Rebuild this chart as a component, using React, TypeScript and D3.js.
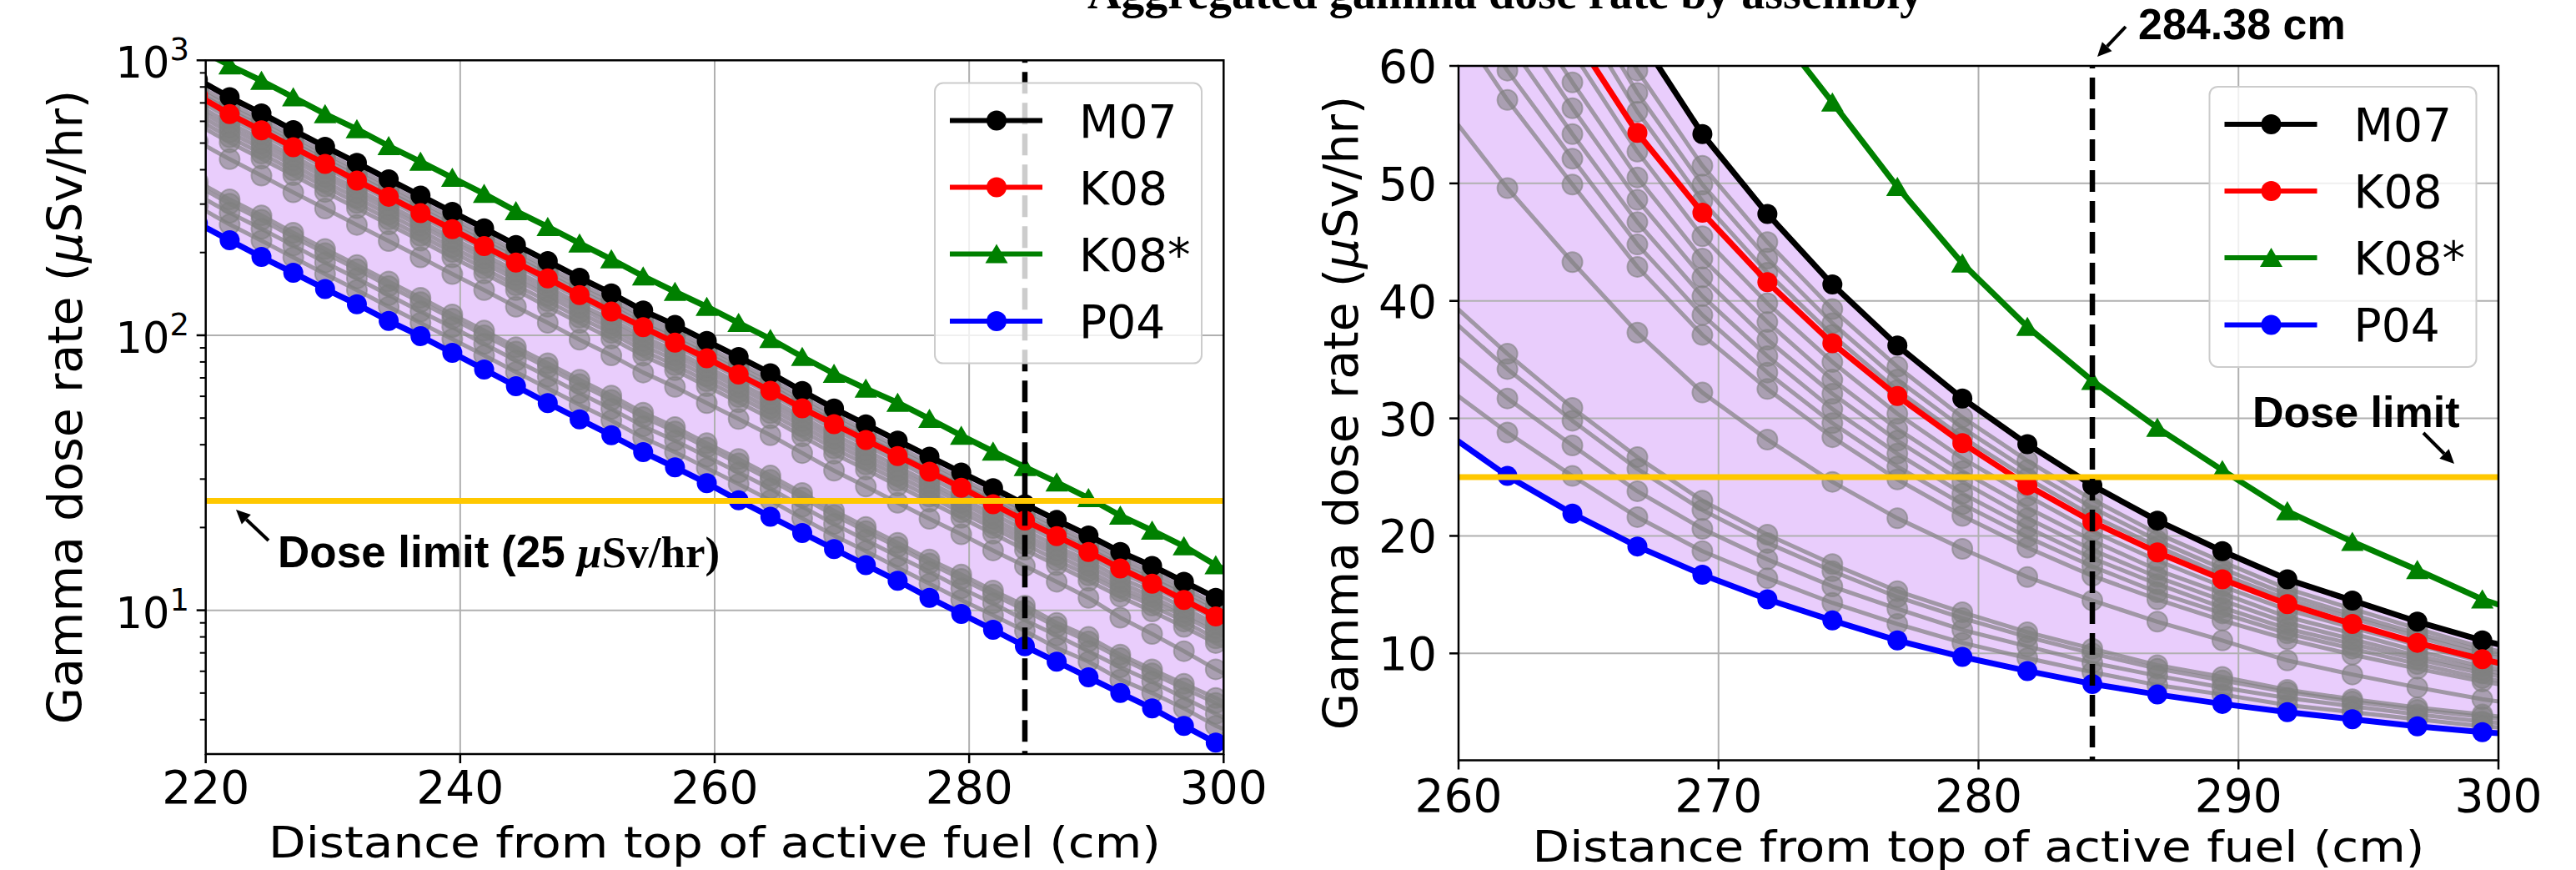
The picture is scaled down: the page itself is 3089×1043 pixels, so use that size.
import React from "react";
import * as d3 from "d3";

// ---------------- data ----------------
const DISTANCE_CM = [219.38, 221.88, 224.38, 226.88, 229.38, 231.88, 234.38, 236.88, 239.38, 241.88, 244.38, 246.88, 249.38, 251.88, 254.38, 256.88, 259.38, 261.88, 264.38, 266.88, 269.38, 271.88, 274.38, 276.88, 279.38, 281.88, 284.38, 286.88, 289.38, 291.88, 294.38, 296.88, 299.38, 301.88];

const M07 = [851, 734, 641, 557, 485, 424, 369, 322, 281, 245, 213, 186, 162, 142, 123, 109, 95.3, 83.4, 72.8, 62.7, 54.2, 47.4, 41.4, 36.2, 31.7, 27.8, 24.3, 21.3, 18.7, 16.3, 14.5, 12.7, 11.1, 9.8];
const K08 = [745, 637, 556, 483, 420, 365, 319, 278, 243, 211, 184, 161, 140, 122, 107, 94, 82.5, 72, 62.8, 54.3, 47.5, 41.6, 36.4, 31.9, 27.9, 24.3, 21.2, 18.6, 16.3, 14.2, 12.5, 10.9, 9.5, 8.3];
const K08_STAR = [1100, 959, 843, 734, 638, 562, 488, 428, 374, 327, 283, 248, 216, 189, 164, 144, 127, 111, 97, 83.5, 72.5, 64, 56.9, 49.7, 43.2, 37.8, 33.2, 29.2, 25.6, 22.1, 19.5, 17.1, 14.6, 12.8];
const P04 = [255, 221.6, 192.7, 168.8, 147.4, 129.7, 112.8, 99.3, 86.4, 75.1, 65.3, 56.7, 49.5, 43.3, 37.6, 33.1, 29.0, 25.1, 21.9, 19.1, 16.7, 14.6, 12.8, 11.1, 9.7, 8.5, 7.4, 6.5, 5.7, 5.0, 4.4, 3.8, 3.3, 2.9];

// other assemblies (grey)
const G01 = [808, 697, 609, 529, 461, 403, 351, 306, 267, 233, 202, 177, 154, 135, 117, 104, 90.5, 79.2, 69.2, 59.6, 51.5, 45.0, 39.3, 34.4, 30.1, 26.4, 23.1, 20.2, 17.8, 15.5, 13.8, 12.1, 10.5, 9.3];
const G02 = [783, 675, 590, 512, 446, 390, 339, 296, 259, 225, 196, 171, 149, 131, 113, 100, 87.7, 76.7, 67.0, 57.7, 49.9, 43.6, 38.1, 33.3, 29.2, 25.6, 22.4, 19.6, 17.2, 15.0, 13.3, 11.7, 10.2, 9.0];
const G03 = [762, 657, 574, 499, 434, 379, 330, 288, 251, 219, 191, 166, 145, 127, 110, 97.6, 85.3, 74.6, 65.2, 56.1, 48.5, 42.4, 37.1, 32.4, 28.4, 24.9, 21.7, 19.1, 16.7, 14.6, 13.0, 11.4, 9.9, 8.8];
const G04 = [715, 617, 538, 468, 407, 356, 310, 270, 236, 206, 179, 156, 136, 119, 103, 91.6, 80.1, 70.1, 61.2, 52.7, 45.5, 39.8, 34.8, 30.4, 26.6, 23.4, 20.4, 17.9, 15.7, 13.7, 12.2, 10.7, 9.3, 8.2];
const G05 = [685, 591, 516, 448, 390, 341, 297, 259, 226, 197, 171, 150, 130, 114, 99.0, 87.7, 76.7, 67.1, 58.6, 50.5, 43.6, 38.2, 33.3, 29.1, 25.5, 22.4, 19.6, 17.1, 15.1, 13.1, 11.7, 10.2, 8.9, 7.9];
const G06 = [660, 569, 497, 432, 376, 329, 286, 250, 218, 190, 165, 144, 126, 110, 95.3, 84.5, 73.9, 64.6, 56.4, 48.6, 42.0, 36.7, 32.1, 28.1, 24.6, 21.5, 18.8, 16.5, 14.5, 12.6, 11.2, 9.8, 8.6, 7.6];
const G07 = [634, 547, 478, 415, 361, 316, 275, 240, 209, 183, 159, 139, 121, 106, 91.6, 81.2, 71.0, 62.1, 54.2, 46.7, 40.4, 35.3, 30.8, 27.0, 23.6, 20.7, 18.1, 15.9, 13.9, 12.1, 10.8, 9.5, 8.3, 7.3];
const G08 = [608, 525, 458, 398, 347, 303, 264, 230, 201, 175, 152, 133, 116, 102, 87.9, 77.9, 68.1, 59.6, 52.1, 44.8, 38.8, 33.9, 29.6, 25.9, 22.7, 19.9, 17.4, 15.2, 13.4, 11.7, 10.4, 9.1, 7.9, 7.0];
const G09 = [583, 503, 439, 382, 332, 290, 253, 221, 192, 168, 146, 127, 111, 97.3, 84.3, 74.7, 65.3, 57.1, 49.9, 42.9, 37.1, 32.5, 28.4, 24.8, 21.7, 19.0, 16.6, 14.6, 12.8, 11.2, 9.9, 8.7, 7.6, 6.7];
const G10 = [506, 437, 381, 331, 289, 252, 220, 192, 167, 146, 127, 111, 96.4, 84.5, 73.2, 64.9, 56.7, 49.6, 43.3, 37.3, 32.2, 28.2, 24.6, 21.5, 18.9, 16.5, 14.5, 12.7, 11.1, 9.4, 8.2, 7.1, 6.1, 5.3];
const G11 = [362, 312, 273, 236, 206, 180, 157, 137, 119, 104, 90.5, 79.1, 68.9, 60.4, 52.3, 46.4, 40.5, 35.5, 30.9, 26.7, 23.0, 20.1, 17.6, 15.3, 13.5, 11.8, 10.4, 9.0, 8.0, 6.9, 6.1, 5.4, 4.8, 4.1];
const G12 = [349, 301, 263, 228, 199, 174, 151, 132, 115, 100, 87.3, 76.3, 66.4, 58.2, 50.4, 44.7, 39.1, 34.2, 29.8, 25.7, 22.2, 19.4, 17.0, 14.8, 13.0, 11.4, 10.0, 8.7, 7.7, 6.7, 5.9, 5.2, 4.6, 4.0];
const G13 = [323, 279, 244, 212, 184, 161, 140, 122, 107, 93.1, 80.9, 70.7, 61.6, 54.0, 46.7, 41.4, 36.2, 31.7, 27.7, 23.8, 20.6, 18.0, 15.7, 13.8, 12.0, 10.6, 9.2, 8.1, 7.1, 6.2, 5.5, 4.8, 4.2, 3.7];
const G14 = [294, 253, 221, 192, 167, 146, 127, 111, 96.9, 84.5, 73.5, 64.2, 55.9, 49.0, 42.4, 37.6, 32.9, 28.8, 25.1, 21.6, 18.7, 16.4, 14.3, 12.5, 10.9, 9.6, 8.4, 7.3, 6.5, 5.6, 5.0, 4.4, 3.8, 3.4];
const GRAY_SERIES = [G01, G02, G03, G04, G05, G06, G07, G08, G09, G10, G11, G12, G13, G14];

const DOSE_LIMIT = 25;
const CUT_DISTANCE = 284.38;

const LEFT_X_TICKS = [220, 240, 260, 280, 300];
const LEFT_Y_MAJOR = [10, 100, 1000];
const LEFT_Y_MINOR = [4, 5, 6, 7, 8, 9, 20, 30, 40, 50, 60, 70, 80, 90, 200, 300, 400, 500, 600, 700, 800, 900];
const RIGHT_X_TICKS = [260, 270, 280, 290, 300];
const RIGHT_Y_TICKS = [10, 20, 30, 40, 50, 60];

const LEGEND = [
  { label: "M07", color: "#000000", marker: "o", data: M07 },
  { label: "K08", color: "#ff0000", marker: "o", data: K08 },
  { label: "K08*", color: "#008000", marker: "^", data: K08_STAR },
  { label: "P04", color: "#0000ff", marker: "o", data: P04 },
];

// ---------------- style ----------------
const FONT = "DejaVu Sans";
const FILL = "#e9cdfc";
const GOLD = "#ffc800";
const GRID = "#b0b0b0";

function tri(cx: number, cy: number, s = 1) {
  return `M${cx},${cy - 12 * s} L${cx - 13.5 * s},${cy + 11 * s} L${cx + 13.5 * s},${cy + 11 * s} Z`;
}

function Arrow({ x1, y1, x2, y2 }: any) {
  const ang = Math.atan2(y2 - y1, x2 - x1);
  const L = 17, W = 8;
  const bx = x2 - L * Math.cos(ang), by = y2 - L * Math.sin(ang);
  const px = -Math.sin(ang) * W, py = Math.cos(ang) * W;
  return (
    <g>
      <line x1={x1} y1={y1} x2={bx} y2={by} stroke="#000" strokeWidth={4} />
      <path d={`M${x2},${y2} L${bx + px},${by + py} L${bx - px},${by - py} Z`} fill="#000" />
    </g>
  );
}

function Legend({ x, y }: any) {
  const rows = [45, 125, 205, 285.5];
  return (
    <g>
      <rect x={x} y={y} width={320} height={336} rx={10} fill="#fff" fillOpacity={0.8} stroke="#cccccc" strokeWidth={2} />
      {LEGEND.map((it, i) => {
        const cy = y + rows[i];
        return (
          <g key={it.label}>
            <line x1={x + 18} x2={x + 129} y1={cy} y2={cy} stroke={it.color} strokeWidth={6} />
            {it.marker === "o" ? (
              <circle cx={x + 74} cy={cy} r={12} fill={it.color} />
            ) : (
              <path d={tri(x + 74, cy)} fill={it.color} />
            )}
            <text x={x + 173} y={cy + 20} fontFamily={FONT} fontSize={55} fill="#000">{it.label}</text>
          </g>
        );
      })}
    </g>
  );
}

function Panel({ id, xs, ys, box, children }: any) {
  const { l, r, t, b } = box;
  const line = (arr: number[]) =>
    d3.line<number>().x((_, i) => xs(DISTANCE_CM[i])).y((d) => ys(d))(arr) as string;
  const area = d3
    .area<number>()
    .x((_, i) => xs(DISTANCE_CM[i]))
    .y0((_, i) => ys(P04[i]))
    .y1((_, i) => ys(M07[i]));
  return (
    <g>
      <defs>
        <clipPath id={id}>
          <rect x={l} y={t} width={r - l} height={b - t} />
        </clipPath>
      </defs>
      <g clipPath={`url(#${id})`}>
        <path d={area(M07) as string} fill={FILL} />
        {children.grid}
        {GRAY_SERIES.map((s, k) => (
          <g key={k}>
            <path d={line(s)} fill="none" stroke="#808080" strokeOpacity={0.7} strokeWidth={5} strokeLinejoin="round" />
            {s.map((v, i) => (
              <circle key={i} cx={xs(DISTANCE_CM[i])} cy={ys(v)} r={12} fill="#808080" fillOpacity={0.6} stroke="#808080" strokeOpacity={0.6} strokeWidth={2} />
            ))}
          </g>
        ))}
        {LEGEND.map((it) => (
          <g key={it.label}>
            <path d={line(it.data)} fill="none" stroke={it.color} strokeWidth={7} strokeLinejoin="round" />
            {it.data.map((v, i) =>
              it.marker === "o" ? (
                <circle key={i} cx={xs(DISTANCE_CM[i])} cy={ys(v)} r={12} fill={it.color} />
              ) : (
                <path key={i} d={tri(xs(DISTANCE_CM[i]), ys(v))} fill={it.color} />
              )
            )}
          </g>
        ))}
        <line x1={l} x2={r} y1={ys(DOSE_LIMIT)} y2={ys(DOSE_LIMIT)} stroke={GOLD} strokeWidth={7} />
        <line x1={xs(CUT_DISTANCE)} x2={xs(CUT_DISTANCE)} y1={t} y2={b} stroke="#000" strokeWidth={6.5} strokeDasharray="26 11" strokeDashoffset={-14} />
      </g>
      <rect x={l} y={t} width={r - l} height={b - t} fill="none" stroke="#000" strokeWidth={2.5} />
    </g>
  );
}

export default function App() {
  // left panel (log)
  const LB = { l: 246.7, r: 1467.3, t: 72.3, b: 904 };
  const xL = d3.scaleLinear().domain([220, 300]).range([LB.l, LB.r]);
  const yL = d3.scaleLog().domain([3, 1000]).range([LB.b, LB.t]);
  // right panel (linear)
  const RB = { l: 1749, r: 2996, t: 79, b: 911.5 };
  const xR = d3.scaleLinear().domain([260, 300]).range([RB.l, RB.r]);
  const yR = d3.scaleLinear().domain([0.9, 60]).range([RB.b, RB.t]);

  const gridL = (
    <g>
      {LEFT_X_TICKS.slice(1, -1).map((v) => (
        <line key={v} x1={xL(v)} x2={xL(v)} y1={LB.t} y2={LB.b} stroke={GRID} strokeWidth={2} />
      ))}
      {LEFT_Y_MAJOR.slice(0, -1).map((v) => (
        <line key={v} x1={LB.l} x2={LB.r} y1={yL(v)} y2={yL(v)} stroke={GRID} strokeWidth={2} />
      ))}
    </g>
  );
  const gridR = (
    <g>
      {RIGHT_X_TICKS.slice(1, -1).map((v) => (
        <line key={v} x1={xR(v)} x2={xR(v)} y1={RB.t} y2={RB.b} stroke={GRID} strokeWidth={2} />
      ))}
      {RIGHT_Y_TICKS.slice(0, -1).map((v) => (
        <line key={v} x1={RB.l} x2={RB.r} y1={yR(v)} y2={yR(v)} stroke={GRID} strokeWidth={2} />
      ))}
    </g>
  );

  return (
    <svg width={3089} height={1043} style={{ position: "fixed", left: 0, top: 0, background: "#fff" }} xmlns="http://www.w3.org/2000/svg">
      <rect x={0} y={0} width={3089} height={1043} fill="#fff" />
      {/* cut-off title */}
      <text x={1805} y={10} textAnchor="middle" fontFamily="Liberation Serif" fontWeight="bold" fontSize={56}>Aggregated gamma dose rate by assembly</text>

      {/* ---------- LEFT ---------- */}
      <Panel id="clipL" xs={xL} ys={yL} box={LB}>{{ grid: gridL }}</Panel>
      {LEFT_X_TICKS.map((v) => (
        <g key={v}>
          <line x1={xL(v)} x2={xL(v)} y1={LB.b} y2={LB.b + 11} stroke="#000" strokeWidth={2.5} />
          <text x={xL(v)} y={963} textAnchor="middle" fontFamily={FONT} fontSize={55}>{v}</text>
        </g>
      ))}
      {LEFT_Y_MINOR.map((v) => (
        <line key={v} x1={LB.l - 7} x2={LB.l} y1={yL(v)} y2={yL(v)} stroke="#000" strokeWidth={2} />
      ))}
      {LEFT_Y_MAJOR.map((v) => (
        <g key={v}>
          <line x1={LB.l - 11} x2={LB.l} y1={yL(v)} y2={yL(v)} stroke="#000" strokeWidth={2.5} />
          <text x={227} y={yL(v) + 21} textAnchor="end" fontFamily={FONT} fontSize={51}>
            <tspan>10</tspan>
            <tspan dy={-21} fontSize={37}>{Math.round(Math.log10(v))}</tspan>
          </text>
        </g>
      ))}
      <text transform={`translate(98,488) rotate(-90)`} textAnchor="middle" fontFamily={FONT} fontSize={57}>
        Gamma dose rate (<tspan fontStyle="italic">μ</tspan>Sv/hr)
      </text>
      <text x={(LB.l + LB.r) / 2} y={1028} textAnchor="middle" fontFamily={FONT} fontSize={52} textLength={1070} lengthAdjust="spacingAndGlyphs">
        Distance from top of active fuel (cm)
      </text>
      <Legend x={1121} y={99.6} />
      <text x={333} y={680} fontFamily="Liberation Sans" fontWeight="bold" fontSize={53}>
        Dose limit (25 <tspan fontFamily="Liberation Serif" fontStyle="italic">μ</tspan>
        <tspan fontFamily="Liberation Serif">Sv/hr)</tspan>
      </text>
      <Arrow x1={322} y1={648} x2={283} y2={611} />

      {/* ---------- RIGHT ---------- */}
      <Panel id="clipR" xs={xR} ys={yR} box={RB}>{{ grid: gridR }}</Panel>
      {RIGHT_X_TICKS.map((v) => (
        <g key={v}>
          <line x1={xR(v)} x2={xR(v)} y1={RB.b} y2={RB.b + 11} stroke="#000" strokeWidth={2.5} />
          <text x={xR(v)} y={973} textAnchor="middle" fontFamily={FONT} fontSize={55}>{v}</text>
        </g>
      ))}
      {RIGHT_Y_TICKS.map((v) => (
        <g key={v}>
          <line x1={RB.l - 11} x2={RB.l} y1={yR(v)} y2={yR(v)} stroke="#000" strokeWidth={2.5} />
          <text x={1723} y={yR(v) + 20} textAnchor="end" fontFamily={FONT} fontSize={55}>{v}</text>
        </g>
      ))}
      <text transform={`translate(1628,495) rotate(-90)`} textAnchor="middle" fontFamily={FONT} fontSize={57}>
        Gamma dose rate (<tspan fontStyle="italic">μ</tspan>Sv/hr)
      </text>
      <text x={(RB.l + RB.r) / 2} y={1033} textAnchor="middle" fontFamily={FONT} fontSize={52} textLength={1070} lengthAdjust="spacingAndGlyphs">
        Distance from top of active fuel (cm)
      </text>
      <Legend x={2649.5} y={103.9} />
      <text x={2701} y={512} fontFamily="Liberation Sans" fontWeight="bold" fontSize={52}>Dose limit</text>
      <Arrow x1={2906} y1={519} x2={2943} y2={556} />
      <text x={2564} y={47} fontFamily="Liberation Sans" fontWeight="bold" fontSize={52}>284.38 cm</text>
      <Arrow x1={2549} y1={32} x2={2515} y2={68} />
    </svg>
  );
}
